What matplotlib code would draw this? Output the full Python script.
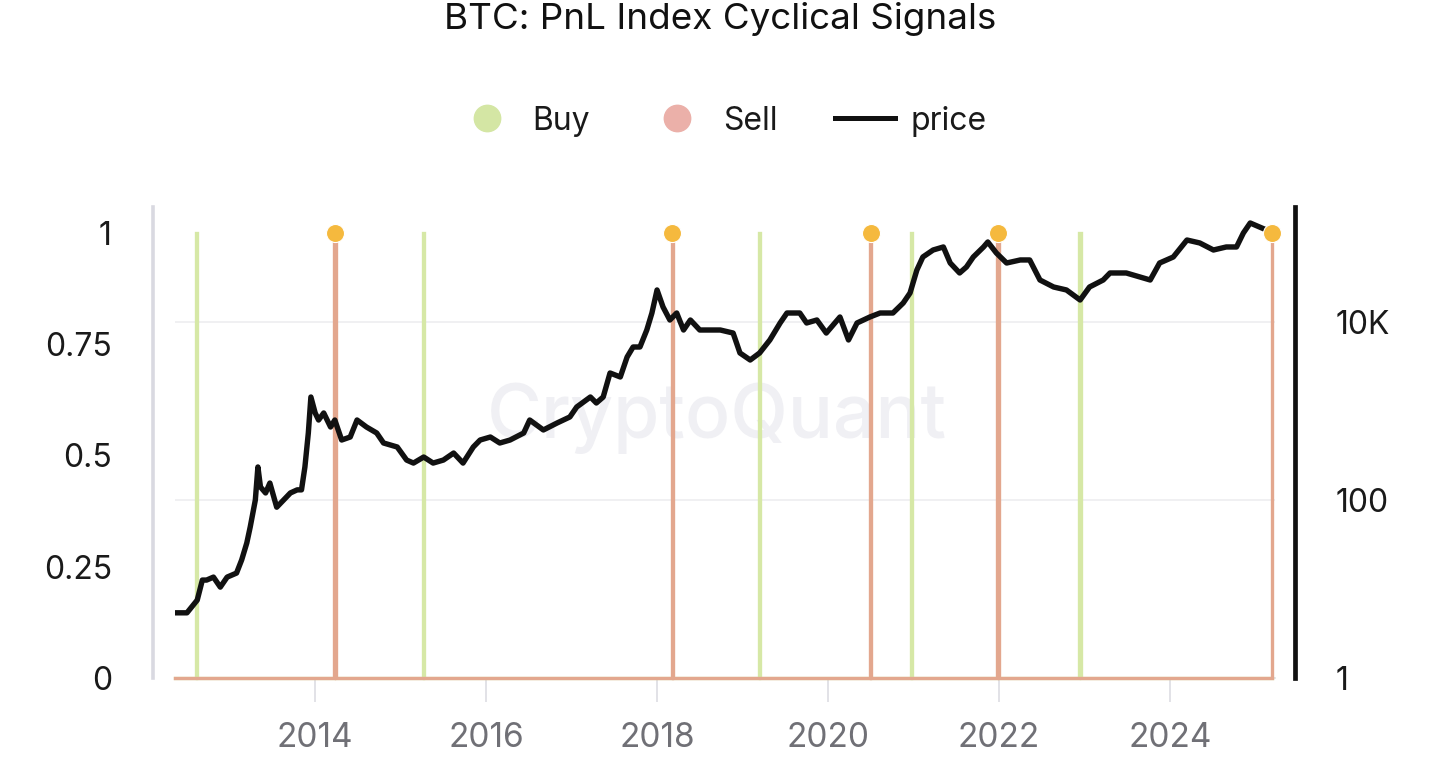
import numpy as np
import matplotlib
matplotlib.use('Agg')
import matplotlib.pyplot as plt
from matplotlib.lines import Line2D
from matplotlib.ticker import FixedLocator, FixedFormatter

plt.rcParams['font.family'] = ['Inter', 'DejaVu Sans']

# --- data ---
price_year = [2012.38, 2012.50, 2012.62, 2012.68, 2012.73, 2012.81, 2012.89, 2012.97, 2013.08, 2013.14,
              2013.20, 2013.24, 2013.30, 2013.33, 2013.36, 2013.42, 2013.47, 2013.55, 2013.63, 2013.71,
              2013.79, 2013.84, 2013.88, 2013.92, 2013.95, 2014.00, 2014.04, 2014.10, 2014.18, 2014.23,
              2014.31, 2014.41, 2014.49, 2014.60, 2014.72, 2014.80, 2014.96, 2015.07, 2015.15, 2015.27,
              2015.38, 2015.50, 2015.62, 2015.73, 2015.85, 2015.93, 2016.05, 2016.16,
              2016.28, 2016.44, 2016.51, 2016.67, 2016.83, 2016.98, 2017.06, 2017.22, 2017.29, 2017.37,
              2017.45, 2017.57, 2017.65, 2017.72, 2017.80, 2017.88, 2017.94, 2018.00, 2018.07, 2018.15,
              2018.23, 2018.31, 2018.39, 2018.50, 2018.62, 2018.74, 2018.89, 2018.97, 2019.09, 2019.20,
              2019.32, 2019.44, 2019.52, 2019.67,
              2019.75, 2019.87, 2019.98, 2020.14, 2020.24, 2020.34, 2020.49, 2020.61, 2020.76, 2020.88,
              2020.96, 2021.04, 2021.11, 2021.23, 2021.35, 2021.43, 2021.54, 2021.62, 2021.70, 2021.82,
              2021.87, 2021.97, 2022.09, 2022.25, 2022.36, 2022.48, 2022.64, 2022.79, 2022.95, 2023.06,
              2023.22,
              2023.30, 2023.49, 2023.65, 2023.77, 2023.88, 2024.04, 2024.20, 2024.35, 2024.51, 2024.66,
              2024.78, 2024.86, 2024.94, 2025.05, 2025.13]
price_usd = [5.4, 5.4, 7.5, 12.6, 12.6, 13.6, 10.5, 13.6, 15.1, 21.2,
             32.9, 49.7, 100, 235, 140, 120, 155, 83, 100, 120,
             130, 130, 235, 566, 1436, 950, 792, 950, 661, 792,
             472, 510, 792, 661, 566, 437, 394, 281, 260, 304,
             260, 281, 337, 260, 394, 472, 510, 437,
             472, 566, 792, 612, 733, 857, 1109, 1436, 1230, 1436,
             2673, 2411, 4045, 5237, 5237, 8128, 12620, 22900, 14750, 10530,
             12620, 8128, 10530, 8128, 8128, 8128, 7516, 4487, 3741, 4487,
             6280, 9750, 12620, 12620,
             9750, 10530, 7516, 11380, 6280, 9750, 11380, 12620, 12620, 16340,
             21180, 38380, 53740, 64400, 69650, 46000, 35540, 41500, 53740, 69650,
             79250, 59600, 46000, 49770, 49770, 29640, 24730, 22900, 17660, 24730,
             29640,
             35540, 35540, 32060, 29640, 46000, 53740, 83400, 77250, 64400, 69650,
             69650, 100000, 129500, 116800, 108100]

buy_dates = [2012.61, 2015.27, 2019.20, 2020.98, 2022.95]
sell_dates = [2014.23, 2018.18, 2020.50, 2021.99, 2025.19]
series_start, series_end = 2012.36, 2025.19

year_ticks = [2014, 2016, 2018, 2020, 2022, 2024]
signal_ticks = [0, 0.25, 0.5, 0.75, 1]
signal_labels = ['0', '0.25', '0.5', '0.75', '1']
price_ticks = [1, 100, 10000]
price_labels = ['1', '100', '10K']

BUY_C = '#d6e8a6'
SELL_C = '#e3a78e'
DOT_C = '#f5b93e'


def spike_series(dates, start, end, w=0.008):
    # 0/1 signal series: flat at 0 with a short spike to 1 at each date
    xs, ys = [start], [0]
    for d in dates:
        if d >= end:
            xs += [d, d]
            ys += [0, 1]
        else:
            xs += [d - w, d - w, d + w, d + w]
            ys += [0, 1, 1, 0]
    if dates[-1] < end:
        xs.append(end)
        ys.append(0)
    return xs, ys


fig = plt.figure(figsize=(14.56, 7.63), dpi=100)
fig.patch.set_facecolor('white')

# base axis: log price scale (grid + right ticks)
ax = fig.add_axes([0.12019, 0.1114, 0.75549, 0.6173])
ax.set_yscale('log')
ax.set_ylim(1, 10 ** 5.292)
ax.set_xlim(2012.36, 2025.23)
ax.grid(axis='y', color='#efeff1', linewidth=1.3)
ax.set_axisbelow(True)
ax.set_xticks(year_ticks)
ax.set_xticklabels([str(y) for y in year_ticks])
ax.tick_params(axis='x', length=17, width=1.2, color='#dddde3', pad=15,
               labelsize=24, labelcolor='#707076')
for s in ['top', 'left']:
    ax.spines[s].set_visible(False)
ax.spines['bottom'].set_color('#dddde3')
ax.spines['bottom'].set_linewidth(1.2)

# watermark
ax.text(0.4925, 0.452, 'CryptoQuant', transform=fig.transFigure, ha='center', va='center',
        fontsize=54, fontweight='medium', color='#f0f0f4', zorder=0)

# signal axis (left)
axs = ax.twinx()
axs.set_ylim(0, 1.0584)
axs.set_xlim(ax.get_xlim())
axs.yaxis.tick_left()
axs.set_yticks(signal_ticks)
axs.set_yticklabels(signal_labels)
axs.tick_params(axis='y', length=0, pad=29.5, labelsize=23, labelcolor='#1a1a1a')
axs.tick_params(axis='x', bottom=False, labelbottom=False)
for s in ['top', 'right', 'bottom']:
    axs.spines[s].set_visible(False)
axs.spines['left'].set_visible(True)
axs.spines['left'].set_position(('outward', 16))
axs.spines['left'].set_color('#d9d9e1')
axs.spines['left'].set_linewidth(2.6)
axs.patch.set_visible(False)

bx, by = spike_series(buy_dates, series_start, series_end)
sx, sy = spike_series(sell_dates, series_start, series_end)
axs.plot(bx, by, color=BUY_C, linewidth=2.4, clip_on=False, solid_joinstyle='miter')
axs.plot(sx, sy, color=SELL_C, linewidth=2.4, clip_on=False, solid_joinstyle='miter')

# price axis (line only)
axp = ax.twinx()
axp.set_yscale('log')
axp.set_ylim(ax.get_ylim())
axp.set_xlim(ax.get_xlim())
axp.axis('off')
axp.plot(price_year, price_usd, color='#111111', linewidth=3.9, solid_joinstyle='round')
axp.plot(sell_dates, [10 ** 5.0] * len(sell_dates), linestyle='none', marker='o',
         markersize=13, color=DOT_C, markeredgecolor='white', markeredgewidth=0.8,
         clip_on=False, zorder=5)

# right (price) ticks - set after twinx, which moves them to the left
ax.yaxis.tick_right()
ax.yaxis.set_major_locator(FixedLocator(price_ticks))
ax.yaxis.set_major_formatter(FixedFormatter(price_labels))
ax.yaxis.set_minor_locator(FixedLocator([]))
ax.tick_params(axis='y', which='both', left=False, labelleft=False, right=True, labelright=True,
               length=0, pad=29.5, labelsize=23, labelcolor='#1a1a1a')
ax.spines['right'].set_visible(True)
ax.spines['right'].set_position(('outward', 14.4))
ax.spines['right'].set_color('#111111')
ax.spines['right'].set_linewidth(3.4)

# title and legend
fig.text(0.4945, 0.975, 'BTC: PnL Index Cyclical Signals', ha='center', va='center',
         fontsize=26.5, color='#111111')
handles = [
    Line2D([], [], linestyle='none', marker='o', markersize=19, color='#d4e6a4'),
    Line2D([], [], linestyle='none', marker='o', markersize=19, color='#ebb0a9'),
    Line2D([], [], color='#111111', linewidth=3.6),
]
fig.legend(handles, ['Buy', 'Sell', 'price'], loc='center', bbox_to_anchor=(0.4955, 0.8414),
           ncol=3, frameon=False, fontsize=23, handlelength=1.9, handletextpad=0.47,
           columnspacing=1.8, labelcolor='#1a1a1a')

fig.savefig('out.png', dpi=100, facecolor='white')
